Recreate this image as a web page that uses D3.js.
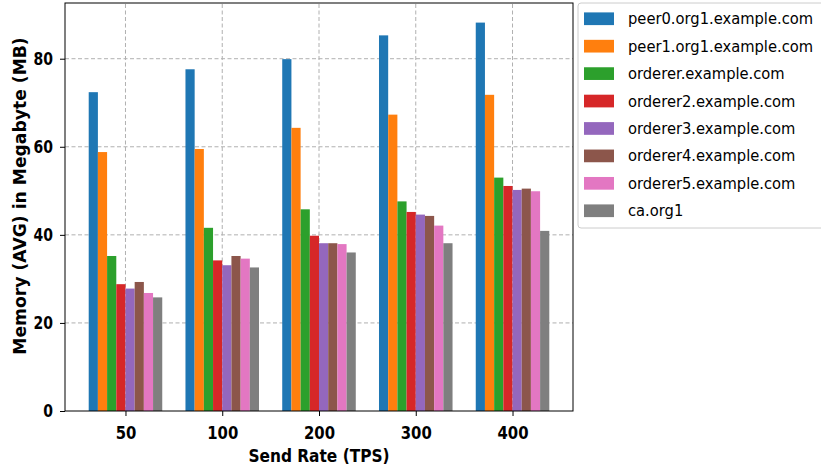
<!DOCTYPE html>
<html lang="en">
<head>
  <meta charset="UTF-8">
  <title>memory bars</title>
  <script src="https://d3js.org/d3.v7.min.js"></script>
  <style>
    body { margin: 0; padding: 0; background: #fff; }
    #chart { width: 821px; height: 472px; }
    text { font-family: "DejaVu Sans", sans-serif; }
  </style>
</head>
<body>
  <div id="chart"></div>
<script>
  const sendRates = ['50', '100', '200', '300', '400']
  const nodeNames = [
    'peer0.org1.example.com', 'peer1.org1.example.com', 'orderer.example.com',
    'orderer2.example.com', 'orderer3.example.com', 'orderer4.example.com',
    'orderer5.example.com', 'ca.org1'
  ]
  const colors = ['#1f77b4', '#ff7f0e', '#2ca02c', '#d62728', '#9467bd', '#8c564b', '#e377c2', '#7f7f7f']
  // memory per node, one value per send rate
  const peer0 = [72.4, 77.6, 79.9, 85.3, 88.2]
  const peer1 = [58.8, 59.5, 64.3, 67.3, 71.8]
  const orderer1 = [35.2, 41.6, 45.8, 47.6, 53.0]
  const orderer2 = [28.8, 34.2, 39.8, 45.2, 51.1]
  const orderer3 = [27.8, 33.1, 38.1, 44.6, 50.2]
  const orderer4 = [29.3, 35.2, 38.1, 44.3, 50.5]
  const orderer5 = [26.8, 34.6, 37.9, 42.1, 49.9]
  const caOrg1 = [25.8, 32.6, 36.0, 38.1, 40.9]
  const series = [peer0, peer1, orderer1, orderer2, orderer3, orderer4, orderer5, caOrg1]
  const yTicks = [0, 20, 40, 60, 80]

  const W = 821, H = 472
  const margin = { top: 3, right: 248, bottom: 61, left: 65 }
  const svg = d3.select('#chart').append('svg')
    .attr('width', W).attr('height', H)

  const barW = 0.095
  const x = d3.scaleLinear().domain([-0.625, 4.625]).range([margin.left, W - margin.right])
  const y = d3.scaleLinear().domain([0, 92.65]).range([H - margin.bottom, margin.top])

  // grid
  const grid = svg.append('g').attr('stroke', '#b0b0b0').attr('stroke-dasharray', '4,2.5').attr('stroke-width', 1)
  grid.selectAll('.gx').data(sendRates).join('line')
    .attr('x1', (d, i) => x(i)).attr('x2', (d, i) => x(i))
    .attr('y1', y.range()[0]).attr('y2', y.range()[1])
  grid.selectAll('.gy').data(yTicks.slice(1)).join('line')
    .attr('x1', x.range()[0]).attr('x2', x.range()[1])
    .attr('y1', d => y(d)).attr('y2', d => y(d))

  // bars
  series.forEach((vals, s) => {
    svg.append('g').selectAll('rect').data(vals).join('rect')
      .attr('x', (d, i) => x(i + (s - 4) * barW))
      .attr('width', x(barW) - x(0))
      .attr('y', d => y(d))
      .attr('height', d => y(0) - y(d))
      .attr('fill', colors[s])
  })

  // frame
  svg.append('rect')
    .attr('x', x.range()[0]).attr('y', margin.top)
    .attr('width', x.range()[1] - x.range()[0]).attr('height', y.range()[0] - margin.top)
    .attr('fill', 'none').attr('stroke', '#000').attr('stroke-width', 1)

  // axes
  const xAxis = svg.append('g').attr('transform', `translate(0,${y(0)})`)
    .call(d3.axisBottom(x).tickValues([0, 1, 2, 3, 4]).tickFormat(i => sendRates[i]).tickSizeOuter(0).tickSize(5).tickPadding(11))
  const yAxis = svg.append('g').attr('transform', `translate(${x.range()[0]},0)`)
    .call(d3.axisLeft(y).tickValues(yTicks).tickSizeOuter(0).tickSize(5))
  ;[xAxis, yAxis].forEach(a => {
    a.select('.domain').remove()
    a.selectAll('text').attr('font-family', '"DejaVu Sans", sans-serif')
      .attr('font-size', 17.5).attr('font-weight', 'bold').attr('fill', '#000')
  })
  xAxis.selectAll('text').attr('transform', 'scale(0.85,1)')
  yAxis.selectAll('text').attr('x', 0).attr('transform', 'translate(-12,0) scale(0.8,1)')

  svg.append('text')
    .attr('transform', `translate(${x(2)},461.5) scale(0.88,1)`)
    .attr('text-anchor', 'middle').attr('font-size', 17.5).attr('font-weight', 'bold')
    .text('Send Rate (TPS)')
  svg.append('text')
    .attr('transform', 'translate(26,196) rotate(-90)')
    .attr('text-anchor', 'middle').attr('font-size', 17.2).attr('font-weight', 'bold')
    .text('Memory (AVG) in Megabyte (MB)')

  // legend
  const lg = svg.append('g').attr('transform', 'translate(578,3)')
  lg.append('rect').attr('width', 260).attr('height', 225).attr('rx', 3)
    .attr('fill', '#fff').attr('stroke', '#cccccc')
  const items = lg.selectAll('g').data(nodeNames).join('g')
    .attr('transform', (d, i) => `translate(0,${15.7 + i * 27.43})`)
  items.append('rect').attr('x', 6).attr('y', -6.3).attr('width', 30).attr('height', 12.7)
    .attr('fill', (d, i) => colors[i])
  items.append('text').attr('transform', 'translate(50,0) scale(0.92,1)').attr('dy', '0.35em')
    .attr('font-size', 16).text(d => d)
</script>
</body>
</html>
